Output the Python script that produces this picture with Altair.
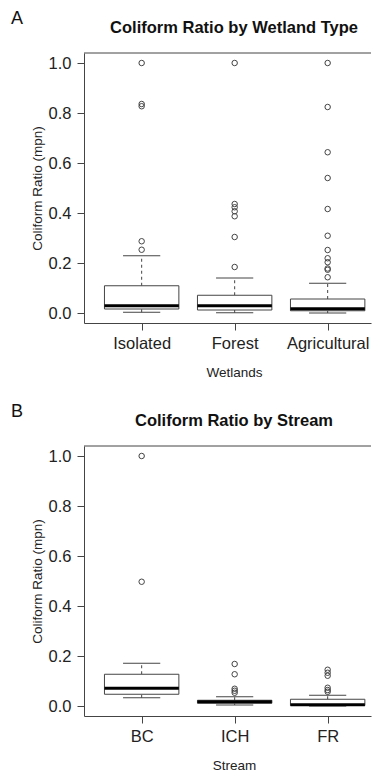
import altair as alt
import pandas as pd

# ---------- Panel A: wetlands ----------
wet_title = "Coliform Ratio by Wetland Type"
wet_letter = "A"
wet_xtitle = "Wetlands"
wet_cats = ["Isolated", "Forest", "Agricultural"]
wet_low = [0.003, 0.001, 0.000]
wet_q1 = [0.016, 0.012, 0.009]
wet_med = [0.029, 0.029, 0.017]
wet_q3 = [0.109, 0.071, 0.056]
wet_high = [0.229, 0.140, 0.119]
wet_out_isolated = [0.253, 0.287, 0.827, 0.836, 1.0]
wet_out_forest = [0.184, 0.304, 0.387, 0.407, 0.423, 0.436, 1.0]
wet_out_agri = [0.143, 0.173, 0.178, 0.203, 0.219, 0.252, 0.309, 0.416,
                0.540, 0.643, 0.824, 1.0]

# ---------- Panel B: streams ----------
str_title = "Coliform Ratio by Stream"
str_letter = "B"
str_xtitle = "Stream"
str_cats = ["BC", "ICH", "FR"]
str_low = [0.033, 0.004, 0.000]
str_q1 = [0.047, 0.011, 0.002]
str_med = [0.071, 0.017, 0.005]
str_q3 = [0.127, 0.023, 0.027]
str_high = [0.171, 0.037, 0.043]
str_out_bc = [0.497, 1.0]
str_out_ich = [0.053, 0.061, 0.069, 0.127, 0.168]
str_out_fr = [0.057, 0.064, 0.073, 0.121, 0.133, 0.145]

y_title = "Coliform Ratio (mpn)"
y_ticks = [0.0, 0.2, 0.4, 0.6, 0.8, 1.0]

W, H = 287, 270
X_DOMAIN = [0.38, 3.466]
FONT = "Liberation Sans"
INK = "#222222"
LINE = "#444444"


def panel(cats, low, q1, med, q3, high, outliers, title, letter, xtitle):
    box_df = pd.DataFrame({
        "cat": cats, "pos": list(range(1, len(cats) + 1)),
        "low": low, "q1": q1, "med": med, "q3": q3, "high": high,
    })
    out_rows = [{"cat": c, "pos": i + 1, "val": v}
                for i, (c, vals) in enumerate(zip(cats, outliers)) for v in vals]
    out_df = pd.DataFrame(out_rows)

    label_expr = "[" + ",".join(f"'{c}'" for c in cats) + "][datum.value - 1]"
    xs = alt.Scale(domain=X_DOMAIN, nice=False, zero=False)
    ys = alt.Scale(domain=[-0.04, 1.04], nice=False, zero=False)
    xa = alt.Axis(values=[1, 2, 3], labelExpr=label_expr, title=xtitle, grid=False,
                  tickSize=7, labelPadding=5, labelFontSize=16.5, labelFont=FONT,
                  labelColor=INK, titleFont=FONT, titleFontSize=13.5,
                  titleFontWeight="normal", titleColor=INK, titleX=150, titleY=53,
                  titleBaseline="alphabetic", domainColor=LINE, tickColor=LINE)
    ya = alt.Axis(values=y_ticks, format=".1f", title=y_title, grid=False,
                  tickSize=7, labelPadding=6, labelFontSize=16.5, labelFont=FONT,
                  labelColor=INK, titleFont=FONT, titleFontSize=13.5,
                  titleFontWeight="normal", titleColor=INK, titleX=-47, titleY=H / 2,
                  titleBaseline="middle", domainColor=LINE, tickColor=LINE)

    def X(f):
        return alt.X(f"{f}:Q", scale=xs, axis=xa)

    def X2(f):
        return alt.X2(f"{f}:Q")

    def Y(f):
        return alt.Y(f"{f}:Q", scale=ys, axis=ya)

    base = alt.Chart(box_df).transform_calculate(
        left="datum.pos - 0.4", right="datum.pos + 0.4",
        capl="datum.pos - 0.2", capr="datum.pos + 0.2",
    )
    whisk_up = base.mark_rule(color=LINE, strokeWidth=1, strokeDash=[3, 3]).encode(
        x=X("pos"), y=Y("q3"), y2=alt.Y2("high:Q"))
    whisk_dn = base.mark_rule(color=LINE, strokeWidth=1, strokeDash=[3, 3]).encode(
        x=X("pos"), y=Y("low"), y2=alt.Y2("q1:Q"))
    cap_hi = base.mark_rule(color=LINE, strokeWidth=1).encode(
        x=X("capl"), x2=X2("capr"), y=Y("high"))
    cap_lo = base.mark_rule(color=LINE, strokeWidth=1).encode(
        x=X("capl"), x2=X2("capr"), y=Y("low"))
    box = base.mark_rect(fill="white", stroke=LINE, strokeWidth=1).encode(
        x=X("left"), x2=X2("right"), y=Y("q1"), y2=alt.Y2("q3:Q"))
    median = base.mark_rule(color="#000000", strokeWidth=3).encode(
        x=X("left"), x2=X2("right"), y=Y("med"))
    outs = alt.Chart(out_df).mark_point(
        shape="circle", filled=False, size=30, stroke=LINE, strokeWidth=1, opacity=1
    ).encode(x=X("pos"), y=Y("val"))

    border = alt.Chart(pd.DataFrame({"k": [0]})).mark_rule(color=LINE, strokeWidth=1).encode(
        x=alt.value(0), x2=alt.value(W), y=alt.value(0))
    ttl = alt.Chart(pd.DataFrame({"t": [title]})).mark_text(
        font=FONT, fontSize=16.5, fontWeight="bold", color="#111111",
        align="center", baseline="alphabetic"
    ).encode(x=alt.value(150), y=alt.value(-20.5), text="t:N")
    let = alt.Chart(pd.DataFrame({"t": [letter]})).mark_text(
        font=FONT, fontSize=18, color="#111111", align="left", baseline="alphabetic"
    ).encode(x=alt.value(-73), y=alt.value(-29), text="t:N")

    return alt.layer(border, whisk_up, whisk_dn, cap_hi, cap_lo, box, median, outs,
                     ttl, let).properties(width=W, height=H)


pA = panel(wet_cats, wet_low, wet_q1, wet_med, wet_q3, wet_high,
           [wet_out_isolated, wet_out_forest, wet_out_agri],
           wet_title, wet_letter, wet_xtitle)
pB = panel(str_cats, str_low, str_q1, str_med, str_q3, str_high,
           [str_out_bc, str_out_ich, str_out_fr],
           str_title, str_letter, str_xtitle)

chart = alt.vconcat(pA, pB, spacing=24).properties(
    padding={"left": 3, "top": 2, "right": 0, "bottom": 1},
    background="white",
).configure_view(stroke=None)

chart.save("out.html", embed_options={"renderer": "svg", "actions": False})
